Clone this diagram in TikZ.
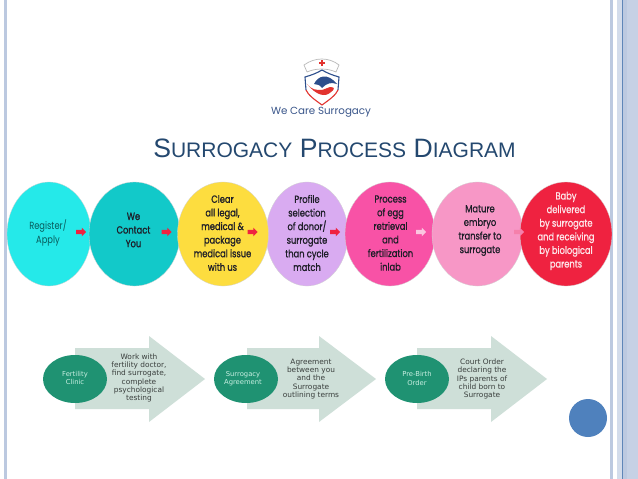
\documentclass[tikz,border=0pt]{standalone}
\usepackage{fontspec}
\usetikzlibrary{shapes.geometric}
\setmainfont{Liberation Sans}
\newfontfamily\gothic[FakeStretch=0.8]{Poppins}
\newfontfamily\gothicb[FakeBold=1,FakeStretch=0.8]{Poppins}
\newfontfamily\brandf{Poppins}
\newfontfamily\dejavu{DejaVu Sans}
\definecolor{bandc}{HTML}{BCC9E0}
\definecolor{bandl}{HTML}{D3DCEB}
\definecolor{bandline}{HTML}{5F86B8}
\definecolor{titlec}{HTML}{24486F}
\definecolor{navy}{HTML}{2C4E8C}
\definecolor{logoR}{HTML}{E2332F}
\definecolor{c1}{HTML}{25E9E9}
\definecolor{c2}{HTML}{12C9C9}
\definecolor{c3}{HTML}{FDDD3F}
\definecolor{c4}{HTML}{D9ABF1}
\definecolor{c5}{HTML}{F852A6}
\definecolor{c6}{HTML}{F797C6}
\definecolor{c7}{HTML}{EF2240}
\definecolor{ink}{HTML}{1E1E28}
\definecolor{arrowgreen}{HTML}{CEDFD8}
\definecolor{ovalgreen}{HTML}{1F9272}
\definecolor{ovaltext}{HTML}{C8EFE2}
\definecolor{smalltext}{HTML}{3A3F3D}
\definecolor{dotblue}{HTML}{4F81BD}
\tikzset{
  stage/.style={ellipse,draw=gray!35,line width=.3pt,inner sep=0pt,minimum height=104},
  stagetext/.style={align=center,inner sep=0pt,text=ink,font=\gothicb\fontsize{10.4}{13.6}\selectfont},
  pics/miniarrow/.style={code={\fill[#1] (-5,-2.2) -- (0.8,-2.2) -- (0.8,-4.3) -- (5,0) -- (0.8,4.3) -- (0.8,2.2) -- (-5,2.2) -- cycle;}},
  chevron/.style={fill=arrowgreen,draw=none},
  oval/.style={ellipse,fill=ovalgreen,inner sep=0pt,minimum width=64,minimum height=48},
  ovaltxt/.style={align=center,inner sep=0pt,text=ovaltext,font=\dejavu\fontsize{6.8}{8.1}\selectfont},
  armtxt/.style={align=center,inner sep=0pt,text=smalltext,font=\dejavu\fontsize{7.4}{8.1}\selectfont},
}
\begin{document}
\begin{tikzpicture}[x=1pt,y=-1pt]
\useasboundingbox (0,0) rectangle (638,479);
\fill[white] (0,0) rectangle (638,479);
% side bands
\fill[bandc] (3.5,0) rectangle (7,479);
\fill[bandc] (610,0) rectangle (613,479);
\fill[bandl] (616.5,0) rectangle (622.5,479);
\fill[bandc] (623,0) rectangle (627,479);
\fill[bandc!85!white] (627,0) rectangle (638,479);
\draw[bandline,line width=.8pt] (622.8,0) -- (622.8,479);
% logo
\draw[gray!55,line width=.7pt] (307,72) -- (304,65) .. controls (315,57) and (329,57) .. (339,65) -- (336,72) .. controls (327,68) and (316,68) .. (307,72);
\fill[logoR] (321,60) rectangle (323,66);
\fill[logoR] (319.2,62) rectangle (324.8,64);
\draw[navy,line width=1.1pt] (306,90) -- (305,77) .. controls (312,75) and (317,73) .. (322,70) .. controls (327,73) and (332,75) .. (339,77) -- (338,90);
\draw[logoR,line width=1.1pt] (306,90) .. controls (308,95) and (315,100) .. (322,105) .. controls (329,100) and (336,95) .. (338,90);
\fill[navy] (314,84) .. controls (318,76) and (327,72) .. (337,84) .. controls (331,82) and (327,83) .. (322,88) .. controls (320,85) and (317,84) .. (314,84) -- cycle;
\fill[logoR] (307,84) .. controls (312,90) and (316,90) .. (322,90) -- (330,87) .. controls (336,87) and (334,90) .. (331,92) .. controls (325,98) and (316,95) .. (307,84) -- cycle;
\node[inner sep=0pt,text=navy!85!gray,font=\brandf\fontsize{10.3}{12}\selectfont] (brand) at (321,112.5) {We Care Surrogacy};
% title
\node[inner sep=0pt,text=titlec,font=\fontsize{26.6}{28}\selectfont] (title) at (334.5,148.5)
  {S{\fontsize{21}{24}\selectfont URROGACY} P{\fontsize{21}{24}\selectfont ROCESS} D{\fontsize{21}{24}\selectfont IAGRAM}};
% stage circles
\node[stage,fill=c1,minimum width=84] (s1) at (49,234) {};
\node[stage,fill=c2,minimum width=91] (s2) at (134.5,234) {};
\node[stage,fill=c4,minimum width=82] (s4) at (307,234) {};
\node[stage,fill=c3,minimum width=91] (s3) at (223,234) {};
\node[stage,fill=c5,minimum width=90] (s5) at (390,234) {};
\node[stage,fill=c6,minimum width=91] (s6) at (477.5,234) {};
\node[stage,fill=c7,minimum width=92] (s7) at (566,234) {};
% stage texts
\node[stagetext,text=black!55!c2,font=\gothic\fontsize{10.4}{13.6}\selectfont] (t1) at (48,233) {Register/\\Apply};
\node[stagetext] (t2) at (133.5,230) {We\\Contact\\You};
\node[stagetext] (t3) at (222.5,233) {Clear\\all legal,\\medical \&\\package\\medical issue\\with us};
\node[stagetext] (t4) at (307,233) {Profile\\selection\\of donor/\\surrogate\\than cycle\\match};
\node[stagetext] (t5) at (390.5,233) {Process\\of egg\\retrieval\\and\\fertilization\\inlab};
\node[stagetext] (t6) at (480,230.5) {Mature\\embryo\\transfer to\\surrogate};
\node[stagetext,text=white!88!c7] (t7) at (566,231) {Baby\\delivered\\by surrogate\\and receiving\\by biological\\parents};
% small arrows
\pic (a1) at (81,232) {miniarrow=c7};
\pic (a2) at (166.5,232) {miniarrow=c7};
\pic (a3) at (252.5,232) {miniarrow=c7};
\pic (a4) at (335,232) {miniarrow=c7};
\pic (a5) at (421,232) {miniarrow=c6!55!white};
\pic (a6) at (519,232) {miniarrow=c6!80!c7};
% lower arrows
\fill[chevron] (75,348) -- (149,348) -- (149,336) -- (205,379) -- (149,422) -- (149,409) -- (75,409) -- cycle;
\fill[chevron] (247,348) -- (319,348) -- (319,336) -- (376,379) -- (319,422) -- (319,409) -- (247,409) -- cycle;
\fill[chevron] (417,348) -- (491,348) -- (491,336) -- (547,379) -- (491,422) -- (491,409) -- (417,409) -- cycle;
\node[oval] (o1) at (75,379) {};
\node[oval] (o2) at (246,379) {};
\node[oval] (o3) at (417,379) {};
\node[ovaltxt] (ot1) at (75,378) {Fertility\\Clinic};
\node[ovaltxt] (ot2) at (243,378.5) {Surrogacy\\Agreement};
\node[ovaltxt] (ot3) at (417,378.5) {Pre-Birth\\Order};
\node[armtxt] (at1) at (139,378) {Work with\\fertility doctor,\\find surrogate,\\complete\\psychological\\testing};
\node[armtxt] (at2) at (311,379) {Agreement\\between you\\and the\\Surrogate\\outlining terms};
\node[armtxt] (at3) at (482,379) {Court Order\\declaring the\\IPs parents of\\child born to\\Surrogate};
% blue dot
\node[circle,fill=dotblue,inner sep=0pt,minimum size=38] (dot) at (588,418) {};
\end{tikzpicture}
\end{document}
